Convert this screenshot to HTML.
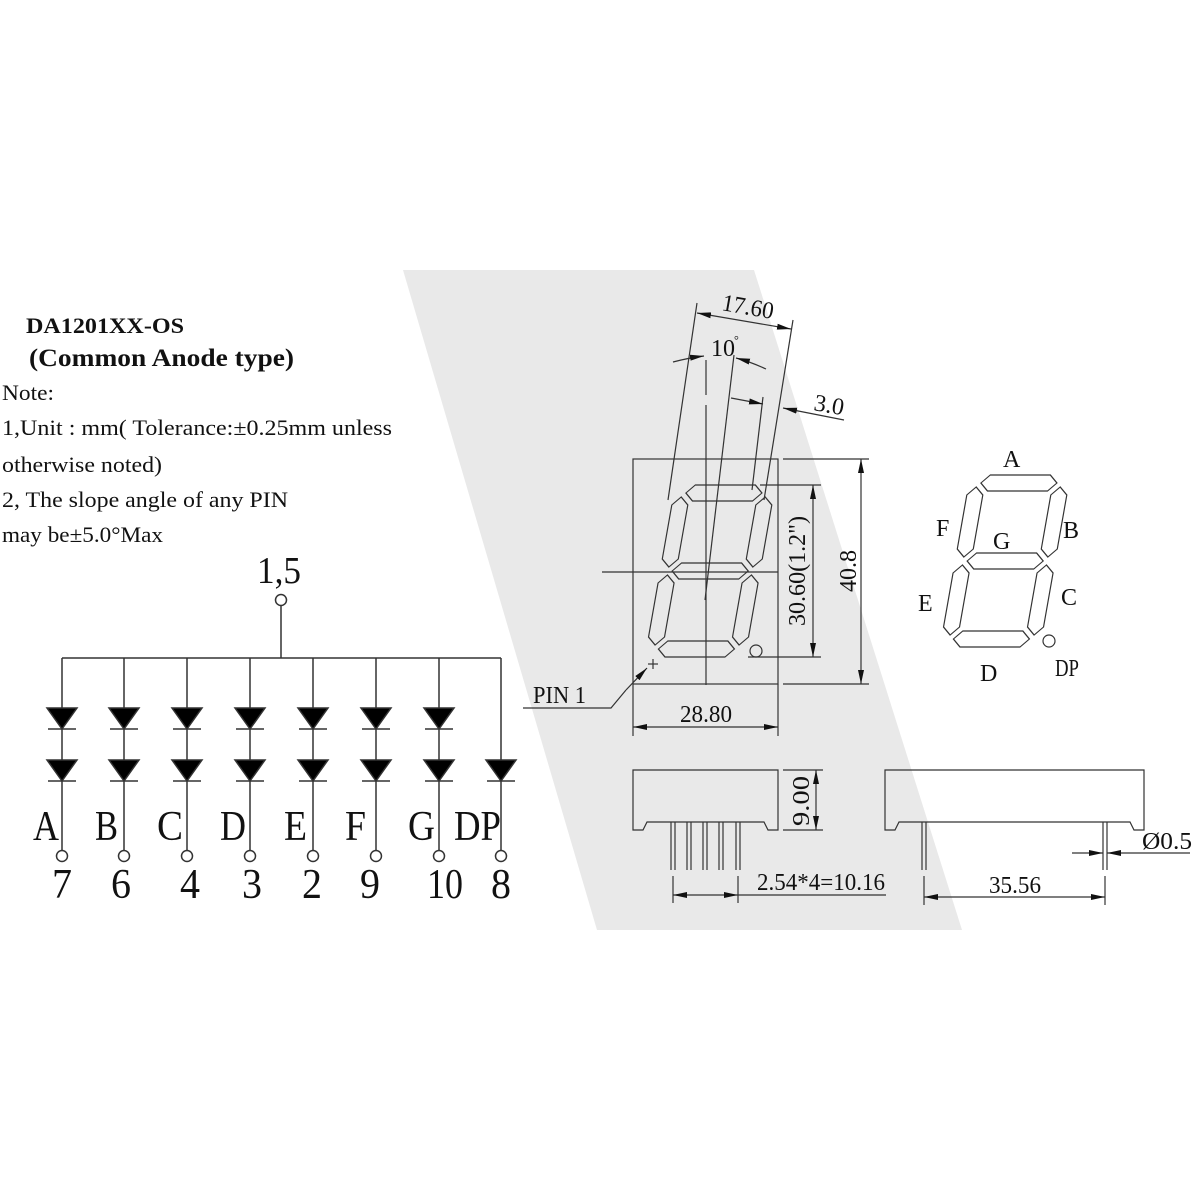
<!DOCTYPE html>
<html><head><meta charset="utf-8"><style>
html,body{margin:0;padding:0;background:#fff;}
svg{display:block;}
text{font-family:"Liberation Serif",serif;fill:#111;}
</style></head><body>
<svg width="1200" height="1200" viewBox="0 0 1200 1200" xmlns="http://www.w3.org/2000/svg">
<defs>
<marker id="ar" markerWidth="14" markerHeight="6" refX="14" refY="3" orient="auto" markerUnits="userSpaceOnUse">
<path d="M0,0 L14,3 L0,6 z" fill="#111"/>
</marker>
<marker id="as" markerWidth="14" markerHeight="6" refX="0" refY="3" orient="auto" markerUnits="userSpaceOnUse">
<path d="M14,0 L0,3 L14,6 z" fill="#111"/>
</marker>
<g id="digit" fill="none" stroke="#333" stroke-width="1.2">
<polygon points="12,8 20,0 80,0 88,8 80,16 20,16"/>
<polygon points="8,12 16,20 16,74 8,82 0,74 0,20"/>
<polygon points="92,12 100,20 100,74 92,82 84,74 84,20"/>
<polygon points="12,86 20,78 80,78 88,86 80,94 20,94"/>
<polygon points="8,90 16,98 16,152 8,160 0,152 0,98"/>
<polygon points="92,90 100,98 100,152 92,160 84,152 84,98"/>
<polygon points="12,164 20,156 80,156 88,164 80,172 20,172"/>
</g>
</defs>

<!-- gray band -->
<polygon points="403,270 754,270 962,930 597,930" fill="#e9e9e9"/>

<!-- left text -->
<text x="26" y="333" font-size="22" font-weight="bold" textLength="158" lengthAdjust="spacingAndGlyphs">DA1201XX-OS</text>
<text x="29" y="366" font-size="25" font-weight="bold" textLength="265" lengthAdjust="spacingAndGlyphs">(Common Anode type)</text>
<text x="2" y="400" font-size="22" textLength="52" lengthAdjust="spacingAndGlyphs">Note:</text>
<text x="2" y="435" font-size="22" textLength="390" lengthAdjust="spacingAndGlyphs">1,Unit : mm( Tolerance:±0.25mm unless</text>
<text x="2" y="472" font-size="22" textLength="160" lengthAdjust="spacingAndGlyphs">otherwise noted)</text>
<text x="2" y="507" font-size="22" textLength="286" lengthAdjust="spacingAndGlyphs">2, The slope angle of any PIN</text>
<text x="2" y="542" font-size="22" textLength="161" lengthAdjust="spacingAndGlyphs">may be±5.0°Max</text>

<!-- circuit -->
<g stroke="#333" stroke-width="1.5" fill="none">
<text x="257" y="583" font-size="38" stroke="none" textLength="44" lengthAdjust="spacingAndGlyphs">1,5</text>
<circle cx="281" cy="600" r="5.5"/>
<line x1="281" y1="606" x2="281" y2="658"/>
<line x1="62" y1="658" x2="501" y2="658"/>
</g>
<g stroke="#333" stroke-width="1.5" fill="none">
<line x1="62" y1="658" x2="62" y2="850"/><circle cx="62" cy="856" r="5.5"/>
<line x1="124" y1="658" x2="124" y2="850"/><circle cx="124" cy="856" r="5.5"/>
<line x1="187" y1="658" x2="187" y2="850"/><circle cx="187" cy="856" r="5.5"/>
<line x1="250" y1="658" x2="250" y2="850"/><circle cx="250" cy="856" r="5.5"/>
<line x1="313" y1="658" x2="313" y2="850"/><circle cx="313" cy="856" r="5.5"/>
<line x1="376" y1="658" x2="376" y2="850"/><circle cx="376" cy="856" r="5.5"/>
<line x1="439" y1="658" x2="439" y2="850"/><circle cx="439" cy="856" r="5.5"/>
<line x1="501" y1="658" x2="501" y2="850"/><circle cx="501" cy="856" r="5.5"/>
</g>
<g fill="#000" stroke="#333" stroke-width="1.5">
<path d="M47,708 L77,708 L62,729 z"/><line x1="48" y1="729" x2="76" y2="729"/>
<path d="M109,708 L139,708 L124,729 z"/><line x1="110" y1="729" x2="138" y2="729"/>
<path d="M172,708 L202,708 L187,729 z"/><line x1="173" y1="729" x2="201" y2="729"/>
<path d="M235,708 L265,708 L250,729 z"/><line x1="236" y1="729" x2="264" y2="729"/>
<path d="M298,708 L328,708 L313,729 z"/><line x1="299" y1="729" x2="327" y2="729"/>
<path d="M361,708 L391,708 L376,729 z"/><line x1="362" y1="729" x2="390" y2="729"/>
<path d="M424,708 L454,708 L439,729 z"/><line x1="425" y1="729" x2="453" y2="729"/>
<path d="M47,760 L77,760 L62,781 z"/><line x1="48" y1="781" x2="76" y2="781"/>
<path d="M109,760 L139,760 L124,781 z"/><line x1="110" y1="781" x2="138" y2="781"/>
<path d="M172,760 L202,760 L187,781 z"/><line x1="173" y1="781" x2="201" y2="781"/>
<path d="M235,760 L265,760 L250,781 z"/><line x1="236" y1="781" x2="264" y2="781"/>
<path d="M298,760 L328,760 L313,781 z"/><line x1="299" y1="781" x2="327" y2="781"/>
<path d="M361,760 L391,760 L376,781 z"/><line x1="362" y1="781" x2="390" y2="781"/>
<path d="M424,760 L454,760 L439,781 z"/><line x1="425" y1="781" x2="453" y2="781"/>
<path d="M486,760 L516,760 L501,781 z"/><line x1="487" y1="781" x2="515" y2="781"/>
</g>
<g font-size="42">
<text x="33" y="840" textLength="26" lengthAdjust="spacingAndGlyphs">A</text>
<text x="95" y="840" textLength="23" lengthAdjust="spacingAndGlyphs">B</text>
<text x="157" y="840" textLength="26" lengthAdjust="spacingAndGlyphs">C</text>
<text x="220" y="840" textLength="26" lengthAdjust="spacingAndGlyphs">D</text>
<text x="284" y="840" textLength="23" lengthAdjust="spacingAndGlyphs">E</text>
<text x="345" y="840" textLength="21" lengthAdjust="spacingAndGlyphs">F</text>
<text x="408" y="840" textLength="27" lengthAdjust="spacingAndGlyphs">G</text>
<text x="454" y="840" textLength="47" lengthAdjust="spacingAndGlyphs">DP</text>
<text x="52" y="898" textLength="20" lengthAdjust="spacingAndGlyphs">7</text>
<text x="111" y="898" textLength="20" lengthAdjust="spacingAndGlyphs">6</text>
<text x="180" y="898" textLength="20" lengthAdjust="spacingAndGlyphs">4</text>
<text x="242" y="898" textLength="20" lengthAdjust="spacingAndGlyphs">3</text>
<text x="302" y="898" textLength="20" lengthAdjust="spacingAndGlyphs">2</text>
<text x="360" y="898" textLength="20" lengthAdjust="spacingAndGlyphs">9</text>
<text x="427" y="898" textLength="36" lengthAdjust="spacingAndGlyphs">10</text>
<text x="491" y="898" textLength="20" lengthAdjust="spacingAndGlyphs">8</text>
</g>

<!-- front view -->
<g stroke="#333" stroke-width="1.2" fill="none">
<rect x="633" y="459" width="145" height="225"/>
<line x1="697" y1="303" x2="668" y2="500"/>
<line x1="793" y1="320" x2="764" y2="500"/>
<line x1="763" y1="397" x2="752" y2="490"/>
<line x1="734" y1="355" x2="705" y2="600"/>
<line x1="706" y1="360" x2="706" y2="395"/>
<line x1="706" y1="405" x2="706" y2="685"/>
<line x1="602" y1="572" x2="778" y2="572"/>
<line x1="697" y1="313" x2="791" y2="329" marker-start="url(#as)" marker-end="url(#ar)"/>
<path d="M673,362 Q688,358 704,356" marker-end="url(#ar)"/>
<path d="M766,369 Q751,362 736,358" marker-end="url(#ar)"/>
<line x1="731" y1="398" x2="763" y2="404" marker-end="url(#ar)"/>
<line x1="844" y1="420" x2="783" y2="408" marker-end="url(#ar)"/>
<line x1="760" y1="485" x2="821" y2="485"/>
<line x1="748" y1="657" x2="821" y2="657"/>
<line x1="813" y1="485" x2="813" y2="657" marker-start="url(#as)" marker-end="url(#ar)"/>
<line x1="783" y1="459" x2="869" y2="459"/>
<line x1="783" y1="684" x2="869" y2="684"/>
<line x1="861" y1="459" x2="861" y2="684" marker-start="url(#as)" marker-end="url(#ar)"/>
<line x1="633" y1="684" x2="633" y2="736"/>
<line x1="778" y1="684" x2="778" y2="736"/>
<line x1="633" y1="727" x2="778" y2="727" marker-start="url(#as)" marker-end="url(#ar)"/>
<polyline points="523,708 611,708 626,690"/>
<line x1="626" y1="690" x2="647" y2="668" marker-end="url(#ar)"/>
<line x1="653" y1="659" x2="653" y2="669"/><line x1="648" y1="664" x2="658" y2="664"/>
<circle cx="756" cy="651" r="6"/>
</g>
<use href="#digit" transform="translate(645,657) skewX(-10) translate(0,-172)"/>

<text font-size="24" transform="translate(721,310) rotate(10)" textLength="52" lengthAdjust="spacingAndGlyphs">17.60</text>
<text x="711" y="356" font-size="24" textLength="24" lengthAdjust="spacingAndGlyphs">10</text>
<text x="734" y="344" font-size="12">°</text>
<text font-size="24" transform="translate(813,410) rotate(10)" textLength="30" lengthAdjust="spacingAndGlyphs">3.0</text>
<text font-size="24" transform="translate(805,626) rotate(-90)" textLength="110" lengthAdjust="spacingAndGlyphs">30.60(1.2")</text>
<text font-size="24" transform="translate(856,592) rotate(-90)" textLength="42" lengthAdjust="spacingAndGlyphs">40.8</text>
<text x="680" y="722" font-size="24" textLength="52" lengthAdjust="spacingAndGlyphs">28.80</text>
<text x="533" y="703" font-size="24" textLength="53" lengthAdjust="spacingAndGlyphs">PIN 1</text>

<!-- right segment diagram -->
<use href="#digit" transform="translate(940,647) skewX(-10) translate(0,-172)"/>
<circle cx="1049" cy="641" r="6" fill="none" stroke="#333" stroke-width="1.2"/>
<g font-size="24">
<text x="1003" y="467">A</text>
<text x="936" y="536">F</text>
<text x="1063" y="538">B</text>
<text x="993" y="549">G</text>
<text x="918" y="611">E</text>
<text x="1061" y="605">C</text>
<text x="980" y="681">D</text>
<text x="1055" y="676" textLength="24" lengthAdjust="spacingAndGlyphs">DP</text>
</g>

<!-- side views -->
<g stroke="#333" stroke-width="1.2" fill="none">
<path d="M633,830 L633,770 L778,770 L778,830 L768,830 L764,822 L647,822 L643,830 z"/>
<line x1="671" y1="822" x2="671" y2="870"/><line x1="675" y1="822" x2="675" y2="870"/>
<line x1="687" y1="822" x2="687" y2="870"/><line x1="691" y1="822" x2="691" y2="870"/>
<line x1="703" y1="822" x2="703" y2="870"/><line x1="707" y1="822" x2="707" y2="870"/>
<line x1="719" y1="822" x2="719" y2="870"/><line x1="723" y1="822" x2="723" y2="870"/>
<line x1="736" y1="822" x2="736" y2="870"/><line x1="740" y1="822" x2="740" y2="870"/>
<line x1="783" y1="770" x2="823" y2="770"/>
<line x1="783" y1="830" x2="823" y2="830"/>
<line x1="816" y1="770" x2="816" y2="830" marker-start="url(#as)" marker-end="url(#ar)"/>
<line x1="673" y1="876" x2="673" y2="903"/>
<line x1="738" y1="876" x2="738" y2="903"/>
<line x1="673" y1="895" x2="738" y2="895" marker-start="url(#as)" marker-end="url(#ar)"/>
<line x1="738" y1="895" x2="886" y2="895"/>
<path d="M885,830 L885,770 L1144,770 L1144,830 L1134,830 L1130,822 L899,822 L895,830 z"/>
<line x1="922" y1="822" x2="922" y2="870"/><line x1="926" y1="822" x2="926" y2="870"/>
<line x1="1103" y1="822" x2="1103" y2="870"/><line x1="1107" y1="822" x2="1107" y2="870"/>
<line x1="924" y1="876" x2="924" y2="905"/>
<line x1="1105" y1="876" x2="1105" y2="905"/>
<line x1="924" y1="897" x2="1105" y2="897" marker-start="url(#as)" marker-end="url(#ar)"/>
<line x1="1072" y1="853" x2="1103" y2="853" marker-end="url(#ar)"/>
<line x1="1190" y1="853" x2="1107" y2="853" marker-end="url(#ar)"/>
</g>
<text font-size="24" transform="translate(809,826) rotate(-90)" textLength="50" lengthAdjust="spacingAndGlyphs">9.00</text>
<text x="757" y="890" font-size="24" textLength="128" lengthAdjust="spacingAndGlyphs">2.54*4=10.16</text>
<text x="989" y="893" font-size="24" textLength="52" lengthAdjust="spacingAndGlyphs">35.56</text>
<text x="1142" y="849" font-size="24" textLength="50" lengthAdjust="spacingAndGlyphs">Ø0.5</text>
</svg>
</body></html>
